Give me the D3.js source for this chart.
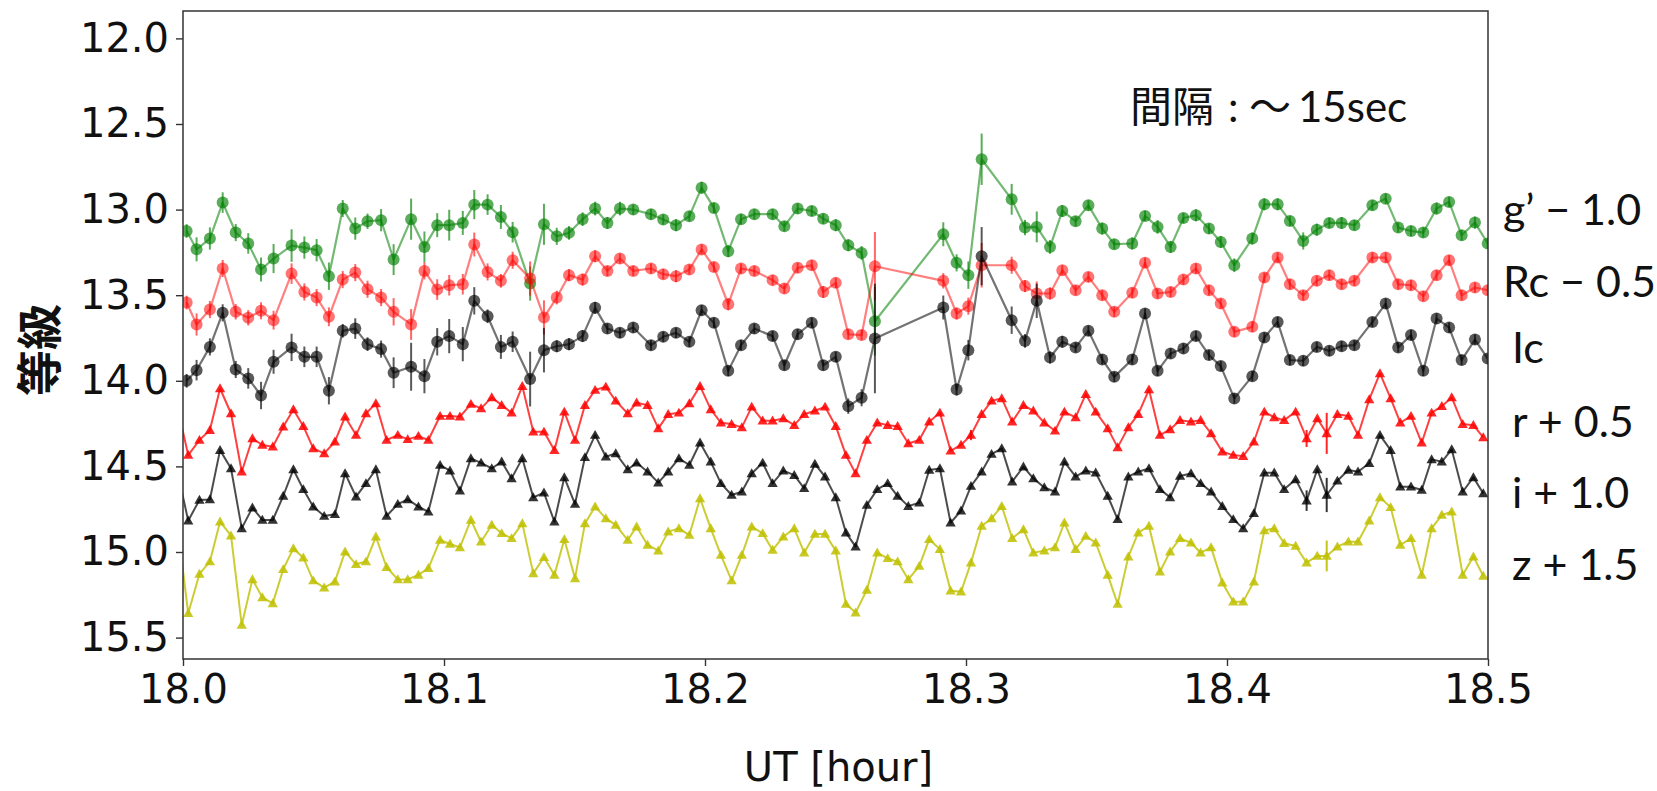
<!DOCTYPE html>
<html><head><meta charset="utf-8">
<script src="https://cdn.jsdelivr.net/npm/d3@7"></script>
<style>body{margin:0;background:#fff;} svg{display:block}</style>
</head><body>
<svg id="c" width="1657" height="791"></svg>
<script>
// ---- time axes (UT hour) ----
const tCircle = [18.0014,18.0052,18.0103,18.0152,18.0202,18.0250,18.0299,18.0347,18.0416,18.0465,18.0512,18.0559,18.0612,18.0660,18.0707,18.0759,18.0807,
18.0874,18.0925,18.0974,18.1020,18.1072,18.1116,18.1167,18.1218,18.1263,18.1330,18.1383,18.1432,18.1479,18.1531,18.1579,18.1626,18.1674,
18.1725,18.1793,18.1840,18.1889,18.1940,18.1987,18.2034,18.2089,18.2138,18.2189,18.2259,18.2304,18.2355,18.2409,18.2453,18.2501,
18.2549,18.2600,18.2651,18.2913,18.2964,18.3009,18.3060,18.3175,18.3226,18.3271,18.3322,18.3369,
18.3420,18.3469,18.3522,18.3568,18.3637,18.3686,18.3734,18.3784,18.3833,18.3881,18.3931,18.3976,18.4028,18.4097,18.4143,18.4194,
18.4241,18.4292,18.4344,18.4392,18.4439,18.4488,18.4557,18.4608,18.4656,18.4705,18.4752,18.4803,18.4851,18.4899,18.4950,18.4999];

const tTriangle = [17.9980,18.0020,18.0063,18.0103,18.0142,18.0184,18.0225,18.0266,18.0304,18.0344,18.0384,18.0423,18.0461,18.0499,18.0541,18.0582,18.0621,18.0663,18.0701,18.0739,18.0780,18.0823,
18.0861,18.0902,18.0940,18.0985,18.1023,18.1061,18.1103,18.1142,18.1183,18.1221,18.1259,18.1300,18.1342,18.1383,18.1423,18.1461,18.1502,18.1540,18.1579,18.1620,18.1658,
18.1704,18.1738,18.1780,18.1821,18.1859,18.1900,18.1940,18.1981,18.2022,18.2061,18.2102,18.2141,18.2179,18.2221,18.2259,18.2300,18.2342,18.2380,18.2421,18.2460,18.2501,
18.2540,18.2577,18.2620,18.2660,18.2700,18.2738,18.2779,18.2821,18.2859,18.2900,18.2941,18.2981,18.3019,18.3060,18.3098,18.3137,18.3177,18.3220,18.3258,18.3300,18.3341,18.3377,
18.3420,18.3459,18.3497,18.3543,18.3581,18.3622,18.3660,18.3701,18.3743,18.3782,18.3820,18.3862,18.3899,18.3939,18.3982,18.4024,18.4062,18.4103,18.4143,18.4181,18.4219,
18.4263,18.4305,18.4346,18.4382,18.4423,18.4465,18.4502,18.4545,18.4586,18.4627,18.4664,18.4705,18.4746,18.4784,18.4823,18.4861,18.4903,18.4944,18.4982];

// ---- plotted magnitudes (offsets already applied) ----
const gMag = [13.125,13.232,13.169,12.959,13.134,13.198,13.350,13.286,13.210,13.222,13.237,13.389,12.994,13.111,13.068,13.062,13.292,
13.056,13.218,13.091,13.091,13.078,12.971,12.971,13.043,13.132,13.432,13.086,13.156,13.136,13.056,12.994,13.078,12.994,
13.000,13.027,13.058,13.091,13.039,12.872,12.990,13.243,13.056,13.027,13.027,13.097,12.994,13.008,13.053,13.091,
13.208,13.253,13.652,13.144,13.311,13.383,12.706,12.940,13.105,13.101,13.218,13.008,
13.068,12.975,13.111,13.202,13.198,13.037,13.101,13.218,13.049,13.033,13.111,13.189,13.325,13.169,12.969,12.969,
13.066,13.183,13.117,13.078,13.078,13.091,12.975,12.936,13.105,13.125,13.134,12.994,12.955,13.150,13.076,13.198];
const gErr = [.04,.07,.065,.06,.05,.06,.07,.085,.095,.065,.065,.08,.05,.065,.045,.065,.09,
.12,.09,.07,.09,.07,.085,.06,.07,.06,.1,.12,.05,.04,.04,.04,.035,.04,
.03,.03,.03,.035,.03,.035,.03,.035,.03,.03,.03,.03,.03,.03,.03,.035,
.035,.04,.2,.07,.05,.08,.15,.09,.045,.09,.04,.035,
.03,.03,.035,.03,.035,.03,.04,.035,.03,.035,.03,.035,.04,.035,.035,.035,
.03,.05,.035,.03,.035,.03,.03,.03,.03,.03,.03,.035,.03,.03,.035,.03];

const rcMag = [13.543,13.671,13.584,13.344,13.597,13.632,13.591,13.646,13.374,13.481,13.514,13.626,13.409,13.368,13.465,13.514,13.597,
13.671,13.358,13.467,13.442,13.436,13.204,13.364,13.416,13.296,13.403,13.630,13.514,13.383,13.409,13.272,13.358,13.286,
13.358,13.344,13.377,13.389,13.350,13.233,13.335,13.553,13.344,13.358,13.412,13.461,13.340,13.325,13.481,13.428,
13.728,13.733,13.331,13.416,13.607,13.564,13.325,13.325,13.447,13.490,13.490,13.354,
13.471,13.393,13.500,13.597,13.486,13.311,13.490,13.481,13.409,13.344,13.471,13.549,13.714,13.685,13.397,13.280,
13.436,13.500,13.416,13.383,13.436,13.416,13.280,13.280,13.436,13.442,13.506,13.383,13.296,13.500,13.455,13.471];
const rcErr = [.04,.065,.05,.05,.045,.045,.05,.055,.06,.05,.05,.055,.05,.05,.05,.05,.08,
.09,.05,.06,.06,.06,.07,.05,.04,.05,.1,.1,.04,.035,.035,.035,.03,.03,
.03,.03,.03,.035,.03,.03,.03,.035,.03,.03,.03,.03,.03,.03,.035,.03,
.03,.03,.2,.045,.035,.05,.13,.05,.035,.07,.035,.03,
.03,.03,.03,.03,.03,.03,.03,.03,.03,.03,.03,.03,.03,.03,.03,.03,
.03,.03,.03,.03,.03,.03,.03,.03,.03,.03,.03,.03,.03,.03,.03,.03];

const icMag = [14.000,13.938,13.802,13.603,13.934,13.986,14.086,13.889,13.805,13.860,13.860,14.058,13.708,13.695,13.786,13.815,13.953,
13.918,13.973,13.772,13.739,13.786,13.533,13.623,13.802,13.772,13.990,13.821,13.798,13.786,13.739,13.574,13.695,13.720,
13.689,13.792,13.743,13.720,13.772,13.588,13.661,13.942,13.792,13.695,13.739,13.909,13.728,13.661,13.909,13.860,
14.148,14.099,13.753,13.572,14.051,13.821,13.272,13.646,13.767,13.533,13.864,13.772,
13.805,13.708,13.875,13.977,13.875,13.607,13.942,13.840,13.811,13.739,13.850,13.914,14.103,13.973,13.747,13.656,
13.879,13.883,13.802,13.825,13.798,13.792,13.656,13.549,13.805,13.733,13.942,13.636,13.689,13.879,13.759,13.870];
const icErr = [.04,.06,.05,.05,.05,.06,.08,.07,.08,.06,.06,.08,.04,.06,.04,.05,.09,
.14,.1,.08,.1,.1,.08,.04,.07,.06,.16,.13,.035,.035,.035,.035,.03,.03,
.03,.03,.03,.03,.03,.03,.03,.03,.03,.03,.03,.03,.03,.03,.03,.03,
.045,.05,.32,.07,.035,.06,.17,.08,.04,.1,.035,.035,
.03,.03,.03,.03,.03,.03,.03,.03,.03,.03,.03,.03,.03,.03,.03,.03,
.03,.03,.03,.03,.03,.03,.03,.03,.03,.03,.03,.03,.03,.03,.03,.03];

const rMag = [14.163,14.434,14.346,14.288,14.045,14.191,14.531,14.337,14.375,14.385,14.268,14.167,14.265,14.395,14.424,14.356,14.210,14.317,14.191,14.132,14.346,14.317,
14.342,14.323,14.346,14.206,14.206,14.210,14.136,14.161,14.097,14.142,14.187,14.031,14.298,14.298,14.405,14.181,14.346,14.142,14.054,14.035,14.117,
14.191,14.128,14.142,14.278,14.195,14.187,14.132,14.031,14.167,14.245,14.253,14.272,14.152,14.233,14.233,14.220,14.259,14.195,14.175,14.152,14.265,
14.434,14.541,14.346,14.245,14.259,14.265,14.366,14.346,14.239,14.187,14.409,14.375,14.317,14.195,14.117,14.103,14.239,14.142,14.175,14.245,14.292,14.181,
14.214,14.078,14.181,14.278,14.389,14.272,14.195,14.051,14.317,14.284,14.230,14.239,14.230,14.307,14.414,14.434,14.440,14.356,14.181,14.214,14.230,
14.181,14.337,14.220,14.307,14.195,14.206,14.317,14.109,13.957,14.103,14.245,14.206,14.362,14.187,14.148,14.097,14.253,14.259,14.331];

const iMag = [14.539,14.817,14.696,14.693,14.405,14.512,14.862,14.741,14.813,14.813,14.673,14.518,14.634,14.735,14.790,14.780,14.541,14.677,14.599,14.518,14.790,14.720,
14.693,14.735,14.765,14.492,14.525,14.642,14.453,14.479,14.512,14.473,14.570,14.453,14.681,14.654,14.823,14.564,14.720,14.447,14.317,14.444,14.424,
14.518,14.479,14.531,14.595,14.531,14.453,14.492,14.362,14.473,14.599,14.667,14.648,14.541,14.479,14.599,14.525,14.551,14.628,14.486,14.560,14.681,
14.887,14.969,14.726,14.634,14.599,14.673,14.732,14.712,14.521,14.512,14.829,14.759,14.615,14.531,14.428,14.395,14.589,14.502,14.570,14.623,14.648,14.473,
14.560,14.525,14.537,14.673,14.809,14.560,14.531,14.512,14.634,14.681,14.556,14.541,14.599,14.648,14.732,14.809,14.862,14.774,14.537,14.537,14.634,
14.576,14.700,14.518,14.667,14.584,14.521,14.531,14.482,14.317,14.405,14.619,14.619,14.638,14.459,14.473,14.401,14.648,14.564,14.658];

const zMag = [14.860,15.358,15.128,15.056,14.823,14.905,15.426,15.160,15.265,15.300,15.101,14.979,15.033,15.167,15.208,15.173,14.998,15.072,15.056,14.911,15.089,15.160,
15.160,15.134,15.095,14.930,14.953,14.973,14.813,14.940,14.842,14.891,14.920,14.833,15.125,15.031,15.134,14.926,15.154,14.833,14.735,14.804,14.842,
14.930,14.852,14.959,14.992,14.881,14.862,14.901,14.687,14.862,15.018,15.167,15.018,14.852,14.891,14.988,14.911,14.862,15.004,14.895,14.895,14.992,
15.304,15.354,15.222,15.004,15.037,15.056,15.160,15.082,14.926,14.984,15.226,15.232,15.062,14.848,14.804,14.732,14.920,14.868,15.004,14.992,14.973,14.829,
14.984,14.907,14.946,15.134,15.304,15.027,14.887,14.848,15.115,14.998,14.920,14.946,15.004,14.973,15.179,15.290,15.290,15.173,14.875,14.862,14.949,
14.965,15.062,15.023,15.023,14.969,14.940,14.940,14.817,14.681,14.739,14.959,14.920,15.134,14.862,14.784,14.765,15.134,15.027,15.140];

// visible error bars of the triangle series: [time, half-length]
const rErrBars = [[18.4305,0.05],[18.4382,0.12],[18.3019,0.03]];
const iErrBars = [[18.4305,0.06],[18.4382,0.10]];
const zErrBars = [[18.4382,0.09]];

const yTicks = [12.0,12.5,13.0,13.5,14.0,14.5,15.0,15.5];
const xTicks = [18.0,18.1,18.2,18.3,18.4,18.5];
const seriesLabels = ["g’ − 1.0","Rc − 0.5","Ic","r + 0.5","i + 1.0","z + 1.5"];

// ---- layout ----
const X0=183, X1=1488, Y0=11, Y1=659;
const x = d3.scaleLinear().domain([18.0,18.5]).range([X0,X1]);
const y = d3.scaleLinear().domain([11.84,15.625]).range([Y0,Y1]);
const svg = d3.select('#c');
svg.append('rect').attr('width',1657).attr('height',791).attr('fill','#fff');
svg.append('defs').append('clipPath').attr('id','clip')
  .append('rect').attr('x',X0).attr('y',Y0).attr('width',X1-X0).attr('height',Y1-Y0);
const plot = svg.append('g').attr('clip-path','url(#clip)');

const series = [
  {t:tCircle, v:gMag,  err:gErr,  color:'#008000', shape:'circle', lineOp:0.55, mOp:0.65, lw:2.2},
  {t:tCircle, v:rcMag, err:rcErr, color:'#ff0000', shape:'circle', lineOp:0.5,  mOp:0.55, lw:2.2},
  {t:tCircle, v:icMag, err:icErr, color:'#000000', shape:'circle', lineOp:0.55, mOp:0.65, lw:2.2},
  {t:tTriangle, v:rMag, bars:rErrBars, color:'#ff0000', shape:'tri', lineOp:0.75, mOp:0.85, lw:2},
  {t:tTriangle, v:iMag, bars:iErrBars, color:'#000000', shape:'tri', lineOp:0.7, mOp:0.8, lw:2},
  {t:tTriangle, v:zMag, bars:zErrBars, color:'#bfbf00', shape:'tri', lineOp:0.8, mOp:0.85, lw:2}
];

const tri = d3.symbol().type(d3.symbolTriangle).size(46);
series.forEach(s=>{
  const pts = s.t.map((t,i)=>({t:t, m:s.v[i], e: s.err ? s.err[i] : 0}));
  const sg = plot.append('g');
  sg.append('path').datum(pts)
    .attr('d', d3.line().x(d=>x(d.t)).y(d=>y(d.m)))
    .attr('fill','none').attr('stroke',s.color)
    .attr('stroke-opacity',s.lineOp).attr('stroke-width',s.lw).attr('stroke-linejoin','round');
  let bars = s.err ? pts.map(p=>[p.t,p.m,p.e]) :
     s.bars.map(b=>{const i=s.t.indexOf(b[0]); return [b[0], s.v[i], b[1]];});
  sg.selectAll('line.eb').data(bars).enter().append('line')
    .attr('x1',d=>x(d[0])).attr('x2',d=>x(d[0]))
    .attr('y1',d=>y(d[1]-d[2])).attr('y2',d=>y(d[1]+d[2]))
    .attr('stroke',s.color).attr('stroke-opacity',s.lineOp+0.1).attr('stroke-width',2);
  if (s.shape==='circle') {
    sg.selectAll('circle').data(pts).enter().append('circle')
      .attr('cx',d=>x(d.t)).attr('cy',d=>y(d.m)).attr('r',6)
      .attr('fill',s.color).attr('fill-opacity',s.mOp);
  } else {
    sg.selectAll('path.m').data(pts).enter().append('path')
      .attr('transform',d=>`translate(${x(d.t)},${y(d.m)+0.8})`)
      .attr('d',tri).attr('fill',s.color).attr('fill-opacity',s.mOp);
  }
});

// ---- axes ----
const axFont = "'DejaVu Sans', sans-serif";
const yAx = svg.append('g').attr('transform',`translate(${X0},0)`)
  .call(d3.axisLeft(y).tickValues(yTicks).tickFormat(d3.format('.1f')).tickSize(7).tickPadding(7).tickSizeOuter(0));
const xAx = svg.append('g').attr('transform',`translate(0,${Y1})`)
  .call(d3.axisBottom(x).tickValues(xTicks).tickFormat(d3.format('.1f')).tickSize(7).tickPadding(9).tickSizeOuter(0));
[yAx,xAx].forEach(a=>{
  a.select('.domain').remove();
  a.selectAll('line').attr('stroke','#333').attr('stroke-width',1.4);
  a.selectAll('text').attr('font-family',axFont).attr('font-size',40).attr('fill','#111');
});
svg.append('rect').attr('x',X0).attr('y',Y0).attr('width',X1-X0).attr('height',Y1-Y0)
  .attr('fill','none').attr('stroke','#333').attr('stroke-width',1.5);

// axis titles
svg.append('text').attr('x',(X0+X1)/2 + 3).attr('y',781).attr('text-anchor','middle')
  .attr('font-family',axFont).attr('font-size',40).attr('fill','#111').text('UT [hour]');
svg.append('text').attr('transform','translate(56,350) rotate(-90)').attr('text-anchor','middle')
  .attr('font-family',"'Noto Sans CJK JP', sans-serif").attr('font-weight','bold')
  .attr('font-size',46).attr('fill','#111').text('等級');

// right-side series labels
const lblFont = "Lato, 'Noto Sans', sans-serif";
const lblPos = [[1503,225],[1503,297],[1512,363],[1512,437],[1512,508],[1512,580]];
seriesLabels.forEach((s,i)=>{
  svg.append('text').attr('x',lblPos[i][0]).attr('y',lblPos[i][1])
    .attr('font-family',lblFont).attr('font-size',43).attr('fill','#111').text(s);
});

// cadence note
const note = svg.append('text').attr('y',122).attr('font-size',42).attr('fill','#111')
  .attr('font-family',"Lato, 'Noto Sans CJK JP', sans-serif");
note.append('tspan').attr('x',1130).attr('font-family',"'Noto Sans CJK JP', sans-serif").text('間隔');
note.append('tspan').attr('x',1228).text(':');
note.append('tspan').attr('x',1249).attr('font-family',"'Noto Sans CJK JP', sans-serif").text('〜');
note.append('tspan').attr('x',1298).text('15sec');
</script>
</body></html>
